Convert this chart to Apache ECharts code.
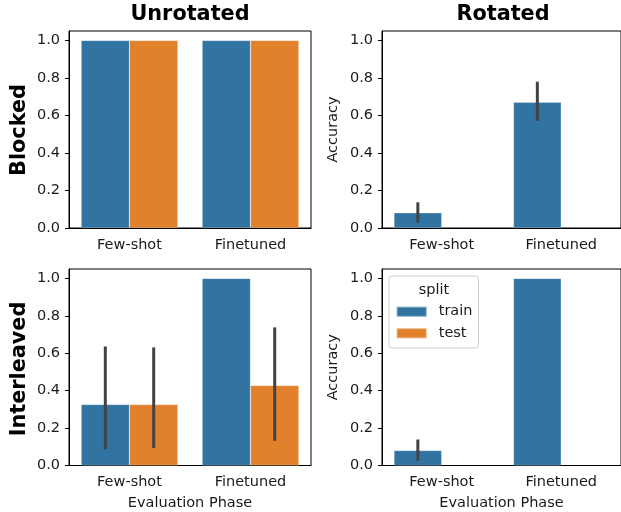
<!DOCTYPE html>
<html><head><meta charset="utf-8">
<script src="https://cdn.jsdelivr.net/npm/echarts@6/dist/echarts.min.js"></script>
<style>html,body{margin:0;padding:0;background:#fff}#c{width:621px;height:512px}</style>
</head><body><div id="c"></div>
<script>
const categories = ['Few-shot', 'Finetuned'];
const yTicks = [0, 0.2, 0.4, 0.6, 0.8, 1.0];
// Blocked / Unrotated
const blockedUnrotTrain = [1.0, 1.0];
const blockedUnrotTest = [1.0, 1.0];
// Blocked / Rotated
const blockedRotTrain = [0.081, 0.670];
const blockedRotTest = [null, null];
const blockedRotTrainCI = [[0.028, 0.137], [0.571, 0.780]];
// Interleaved / Unrotated
const interUnrotTrain = [0.326, 1.0];
const interUnrotTest = [0.326, 0.428];
const interUnrotTrainCI = [[0.087, 0.636], null];
const interUnrotTestCI = [[0.093, 0.631], [0.132, 0.738]];
// Interleaved / Rotated
const interRotTrain = [0.080, 1.0];
const interRotTest = [null, null];
const interRotTrainCI = [[0.025, 0.139], null];

const BLUE = '#3274a1', ORANGE = '#e1812c', FONT = 'DejaVu Sans', TXT = '#1a1a1a';
const FS = 14.5, BIG = 20.8;

const grids = [
  {left: 69, top: 31, width: 242, height: 197},
  {left: 382, top: 31, width: 242, height: 197},
  {left: 69, top: 269, width: 242, height: 197},
  {left: 382, top: 269, width: 242, height: 197}
].map(g => Object.assign(g, {show: true, borderColor: '#000', borderWidth: 1, backgroundColor: 'transparent'}));

const yNames = ['', 'Accuracy', '', 'Accuracy'];
const xAxes = grids.map((g, i) => ({
  type: 'category', gridIndex: i, data: categories,
  axisLine: {lineStyle: {color: '#000', width: 1}},
  axisTick: {alignWithLabel: true, length: 4, lineStyle: {color: '#000'}},
  axisLabel: {fontFamily: FONT, fontSize: FS, color: TXT, margin: 9.5},
  name: i >= 2 ? 'Evaluation Phase' : '', nameLocation: 'middle', nameGap: 30.5,
  nameTextStyle: {fontFamily: FONT, fontSize: FS, color: TXT}
}));
const yAxes = grids.map((g, i) => ({
  type: 'value', gridIndex: i, min: 0, max: 1.05,
  splitLine: {show: false},
  axisLine: {show: true, lineStyle: {color: '#000', width: 1}},
  axisTick: {show: true, length: 4, lineStyle: {color: '#000'}, customValues: yTicks},
  axisLabel: {fontFamily: FONT, fontSize: FS, color: TXT, margin: 9, customValues: yTicks,
    formatter: v => v.toFixed(1)},
  name: yNames[i], nameLocation: 'middle', nameGap: 41,
  nameTextStyle: {fontFamily: FONT, fontSize: FS, color: TXT}
}));

function bar(name, data, color, gi) {
  return {type: 'bar', name, data, xAxisIndex: gi, yAxisIndex: gi, barGap: '0%', barCategoryGap: '20%',
    itemStyle: {color, borderColor: 'rgba(255,255,255,0.35)', borderWidth: 0.6}, silent: true};
}
function err(ci, gi, frac) {
  const data = [];
  ci.forEach((c, i) => { if (c) data.push([i, c[0], c[1]]); });
  return {type: 'custom', xAxisIndex: gi, yAxisIndex: gi, data, z: 10, silent: true,
    encode: {x: 0, y: [1, 2]},
    renderItem: (p, api) => {
      const x = api.value(0);
      const lo = api.coord([x, api.value(1)]);
      const hi = api.coord([x, api.value(2)]);
      const dx = frac * api.size([1, 0])[0];
      return {type: 'line', shape: {x1: lo[0] + dx, y1: lo[1], x2: hi[0] + dx, y2: hi[1]},
        style: {stroke: '#424242', lineWidth: 3}};
    }};
}

const series = [
  bar('train', blockedUnrotTrain, BLUE, 0), bar('test', blockedUnrotTest, ORANGE, 0),
  bar('train', blockedRotTrain, BLUE, 1), bar('test', blockedRotTest, ORANGE, 1),
  err(blockedRotTrainCI, 1, -0.2),
  bar('train', interUnrotTrain, BLUE, 2), bar('test', interUnrotTest, ORANGE, 2),
  err(interUnrotTrainCI, 2, -0.2), err(interUnrotTestCI, 2, 0.2),
  bar('train', interRotTrain, BLUE, 3), bar('test', interRotTest, ORANGE, 3),
  err(interRotTrainCI, 3, -0.2)
];

const chart = echarts.init(document.getElementById('c'), null, {renderer: 'canvas'});
chart.setOption({
  animation: false,
  backgroundColor: '#fff',
  grid: grids, xAxis: xAxes, yAxis: yAxes, series,
  legend: {
    data: [{name: 'train', itemStyle: {color: BLUE}}, {name: 'test', itemStyle: {color: ORANGE}}],
    orient: 'vertical', left: 389, top: 276, selectedMode: false,
    itemWidth: 30, itemHeight: 10, itemGap: 4.6, icon: 'rect',
    padding: [27.2, 6, 6.2, 6.7],
    borderColor: '#cccccc', borderWidth: 1, borderRadius: 3, backgroundColor: 'rgba(255,255,255,0.8)',
    textStyle: {fontFamily: FONT, fontSize: FS, color: TXT, lineHeight: 17, padding: [0, 0, 0, 7]}
  },
  graphic: [
    {type: 'text', x: 190, y: 15, z: 100, style: {text: 'Unrotated', fontFamily: FONT, fontSize: BIG, fontWeight: 'bold', fill: '#000', align: 'center', verticalAlign: 'middle'}},
    {type: 'text', x: 503, y: 15, z: 100, style: {text: 'Rotated', fontFamily: FONT, fontSize: BIG, fontWeight: 'bold', fill: '#000', align: 'center', verticalAlign: 'middle'}},
    {type: 'text', x: 20, y: 130, rotation: Math.PI / 2, z: 100, style: {text: 'Blocked', fontFamily: FONT, fontSize: BIG, fontWeight: 'bold', fill: '#000', align: 'center', verticalAlign: 'middle'}},
    {type: 'text', x: 20, y: 369, rotation: Math.PI / 2, z: 100, style: {text: 'Interleaved', fontFamily: FONT, fontSize: BIG, fontWeight: 'bold', fill: '#000', align: 'center', verticalAlign: 'middle'}},
    {type: 'text', x: 434, y: 290, z: 100, style: {text: 'split', fontFamily: FONT, fontSize: FS, fill: TXT, align: 'center', verticalAlign: 'middle'}}
  ]
});
</script></body></html>
